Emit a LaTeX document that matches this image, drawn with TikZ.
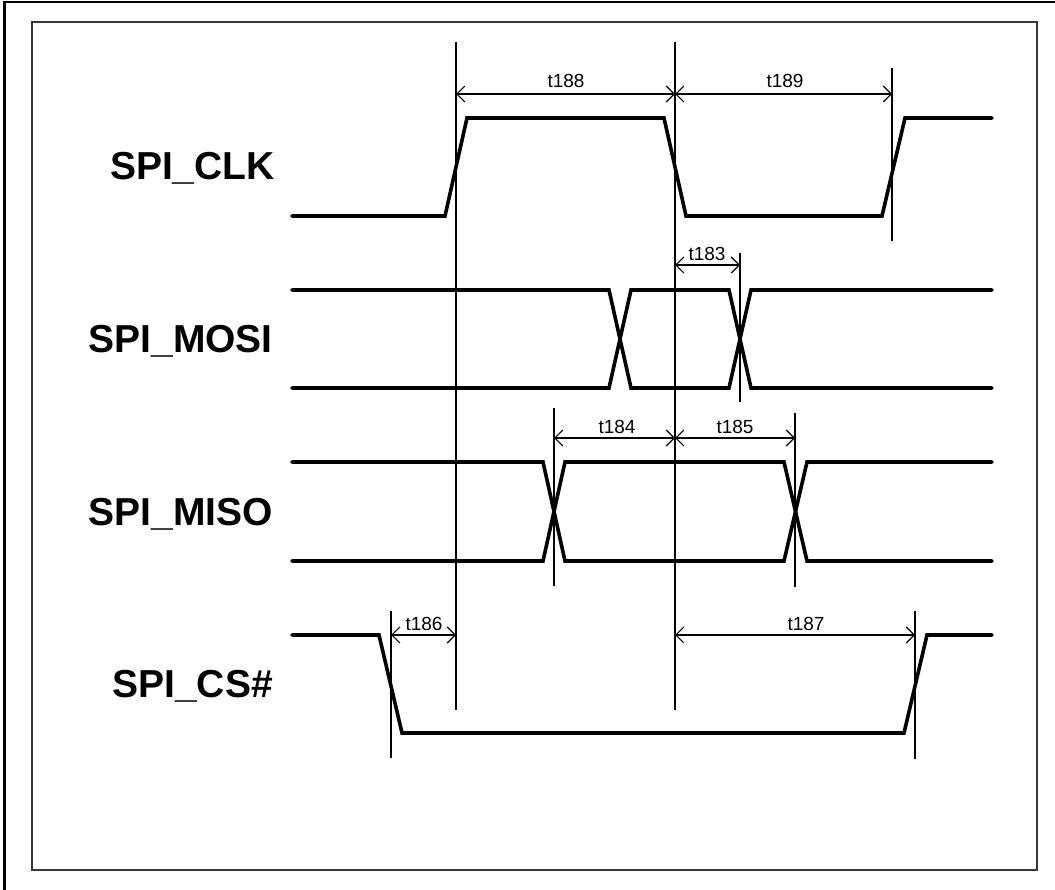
\documentclass[tikz,border=0pt]{standalone}
\usepackage{fontspec}
\setmainfont{Liberation Sans}
\usetikzlibrary{arrows.meta}
\tikzset{
  wave/.style={line width=3.6pt, line join=miter, line cap=round},
  guide/.style={line width=1.1pt},
  dimline/.style={line width=1.1pt, {Straight Barb[length=8pt,width=16pt]}-{Straight Barb[length=8pt,width=16pt]}},
  siglabel/.style={anchor=base east, inner sep=0pt, font=\fontsize{39}{39}\selectfont\bfseries},
  dimlabel/.style={anchor=base, inner sep=0pt, font=\fontsize{19}{19}\selectfont},
}
\begin{document}
\begin{tikzpicture}[x=1pt,y=-1pt]
\useasboundingbox (0,0) rectangle (1055,890);
% frames
\draw[line width=2.6pt] (4.5,890) -- (4.5,2.2) -- (1055,2.2);
\draw[line width=1.6pt, draw=black!78] (32,22) rectangle (1037,870);

% guide coordinates
\coordinate (g1t) at (456,42);  \coordinate (g1b) at (456,710);
\coordinate (g2t) at (675,42);  \coordinate (g2b) at (675,710);
\coordinate (g3t) at (892,68);  \coordinate (g3b) at (892,241);
\coordinate (g4t) at (740,253); \coordinate (g4b) at (740,402);
\coordinate (g5t) at (554,408); \coordinate (g5b) at (554,586);
\coordinate (g6t) at (795,413); \coordinate (g6b) at (795,587);
\coordinate (g7t) at (391,611); \coordinate (g7b) at (391,758);
\coordinate (g8t) at (915,611); \coordinate (g8b) at (915,759);
\foreach \g in {1,...,8} \draw[guide] (g\g t) -- (g\g b);

% signal labels
\node[siglabel] (lclk)  at (275,180) {SPI\_CLK};
\node[siglabel] (lmosi) at (273,353) {SPI\_MOSI};
\node[siglabel] (lmiso) at (273,525) {SPI\_MISO};
\node[siglabel] (lcs)   at (273,697) {SPI\_CS\#};

% waveforms
\draw[wave] (292,216) -- (445,216) -- (467,118) -- (664,118) -- (686,216) -- (882,216) -- (905,118) -- (992,118);
\draw[wave] (292,290) -- (609,290) -- (631,388) -- (729,388) -- (751,290) -- (992,290);
\draw[wave] (292,388) -- (609,388) -- (631,290) -- (729,290) -- (751,388) -- (992,388);
\draw[wave] (292,462) -- (543,462) -- (565,561) -- (784,561) -- (807,462) -- (992,462);
\draw[wave] (292,561) -- (543,561) -- (565,462) -- (784,462) -- (807,561) -- (992,561);
\draw[wave] (292,635) -- (379,635) -- (402,733) -- (904,733) -- (927,635) -- (992,635);

% dimension lines
\draw[dimline] (456,94) -- (675,94);
\draw[dimline] (675,94) -- (892,94);
\draw[dimline] (675,265) -- (740,265);
\draw[dimline] (554,438) -- (675,438);
\draw[dimline] (675,438) -- (795,438);
\draw[dimline] (391,635) -- (456,635);
\draw[dimline] (675,635) -- (915,635);

% dimension labels
\node[dimlabel] (t188) at (566,88) {t188};
\node[dimlabel] (t189) at (785,88) {t189};
\node[dimlabel] (t183) at (707,261) {t183};
\node[dimlabel] (t184) at (617,433) {t184};
\node[dimlabel] (t185) at (735,433) {t185};
\node[dimlabel] (t186) at (424,630) {t186};
\node[dimlabel] (t187) at (806,630) {t187};
\end{tikzpicture}
\end{document}
